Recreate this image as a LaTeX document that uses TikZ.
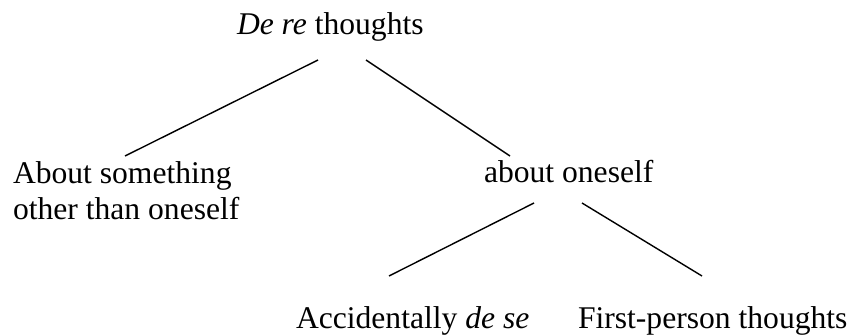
\documentclass[tikz,border=0pt]{standalone}
\usepackage{fontspec}
\setmainfont{Liberation Serif}
\usetikzlibrary{calc}
\begin{document}
\begin{tikzpicture}[x=1pt,y=-1pt,
  lbl/.style={inner sep=0pt, outer sep=0pt, anchor=base west, font=\fontsize{31.6}{36}\selectfont},
  edge/.style={line width=1.4pt}]
\useasboundingbox (0,0) rectangle (851,336);
\node[lbl] (top) at (237,35) {\textit{De re} thoughts};
\node[lbl, align=left] (other) at (13,220) {About something\\other than oneself};
\node[lbl] (self) at (484,183) {about oneself};
\node[lbl] (acc) at (296,329) {Accidentally \textit{de se}};
\node[lbl] (first) at (578,329) {First-person thoughts};
\draw[edge] ($(top.base west)+(81,25)$) -- ($(other.base west)+(112,-64)$);
\draw[edge] ($(top.base west)+(129,25)$) -- ($(self.base west)+(26,-27)$);
\draw[edge] ($(self.base west)+(50,20)$) -- ($(acc.base west)+(93,-53)$);
\draw[edge] ($(self.base west)+(98,20)$) -- ($(first.base west)+(124,-53)$);
\end{tikzpicture}
\end{document}
